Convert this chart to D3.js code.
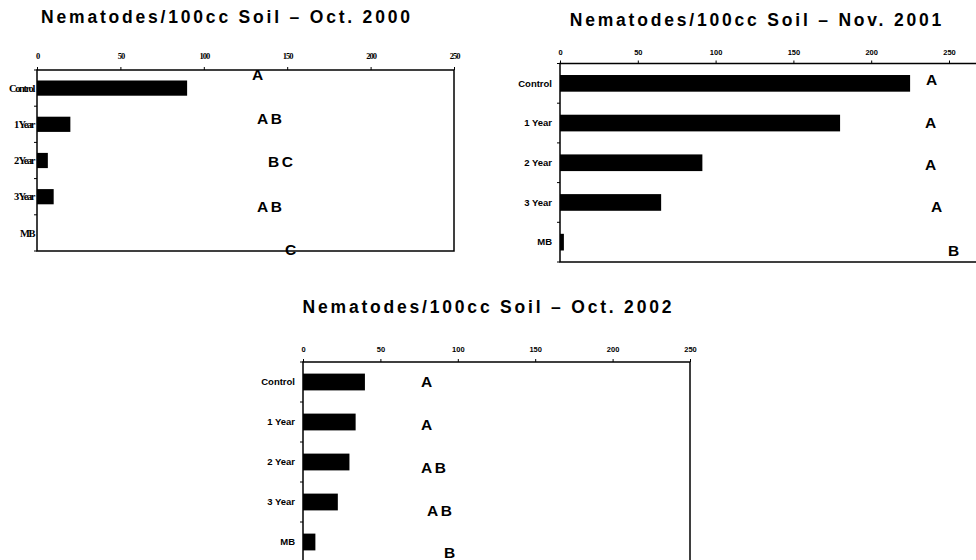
<!DOCTYPE html>
<html>
<head>
<meta charset="utf-8">
<script src="https://cdn.jsdelivr.net/npm/d3@7"></script>
<style>
  body { margin: 0; background: #fff; }
  svg { display: block; }
</style>
</head>
<body>
<script>
// categories shared by all three plots
var categories = ["Control", "1 Year", "2 Year", "3 Year", "MB"];
var xTicks = [0, 50, 100, 150, 200, 250];

// nematodes per 100cc soil
var oct2000 = [90, 20, 6.5, 10, 0];
var nov2001 = [225, 180, 91.5, 65, 2.5];
var oct2002 = [40, 34, 30, 22.5, 8];

// significance letters
var letters2000 = ["A", "AB", "BC", "AB", "C"];
var letters2001 = ["A", "A", "A", "A", "B"];
var letters2002 = ["A", "A", "AB", "AB", "B"];

var titles = ["Nematodes/100cc Soil \u2013 Oct. 2000",
              "Nematodes/100cc Soil \u2013 Nov. 2001",
              "Nematodes/100cc Soil \u2013 Oct. 2002"];

var W = 976, H = 560;
var svg = d3.select("body").append("svg").attr("width", W).attr("height", H);

var sans = "'Liberation Sans', Arial, sans-serif";
var serif = "'Liberation Serif', 'Times New Roman', serif";

// layout of each panel (positions only)
var panels = [
  { title: titles[0], values: oct2000, letters: letters2000,
    titleX: 225.5, titleY: 23,
    left: 37, right: 454, top: 70, band: 36.2, boxRight: 454, boxBottom: 251,
    tickY: 59, labelX: 34, font: serif, tickSize: 8.5, tickLs: -1, catSize: 10.5, catLs: -1.4,
    // letter placement: offset from plot left, baseline offset from band centre
    lx: [215, 220, 231, 220, 248], ly: [-8, 0, 6, 15, 22] },
  { title: titles[1], values: nov2001, letters: letters2001,
    titleX: 755.5, titleY: 26,
    left: 560, right: 949, top: 63.5, band: 39.7, boxRight: 990, boxBottom: 262,
    tickY: 55, labelX: 552, font: sans, tickSize: 7.5, tickLs: 0, catSize: 9.5, catLs: 0,
    lx: [366, 365, 365, 371, 388], ly: [2, 5, 7, 10, 14] },
  { title: titles[2], values: oct2002, letters: letters2002,
    titleX: 487, titleY: 313.3,
    left: 303, right: 690, top: 362, band: 40, boxRight: 690, boxBottom: 600,
    tickY: 352, labelX: 295, font: sans, tickSize: 7.5, tickLs: 0, catSize: 9.5, catLs: 0,
    lx: [118, 118, 118, 124, 141], ly: [5, 8, 11, 14, 15.5] }
];

panels.forEach(function(p) {
  var g = svg.append("g");

  var x = d3.scaleLinear().domain([0, 250]).range([p.left, p.right]);
  var y = d3.scaleBand()
            .domain(categories)
            .range([p.top, p.top + p.band * categories.length])
            .paddingInner(0.58)
            .paddingOuter(0.29);

  // title
  var ls = 2.8;
  g.append("text")
    .attr("x", p.titleX + ls / 2)
    .attr("y", p.titleY)
    .attr("text-anchor", "middle")
    .style("font-family", sans)
    .style("font-weight", "bold")
    .style("font-size", "17.5px")
    .style("letter-spacing", ls + "px")
    .text(p.title);

  // bars
  g.selectAll("rect.bar")
    .data(p.values)
    .enter().append("rect")
    .attr("class", "bar")
    .attr("x", x(0))
    .attr("y", function(d, i) { return y(categories[i]); })
    .attr("width", function(d) { return x(d) - x(0); })
    .attr("height", y.bandwidth())
    .attr("fill", "#000");

  // frame
  g.append("rect")
    .attr("x", p.left)
    .attr("y", p.top)
    .attr("width", p.boxRight - p.left)
    .attr("height", p.boxBottom - p.top)
    .attr("fill", "none")
    .attr("stroke", "#000")
    .attr("stroke-width", 1.5);

  // top axis
  var axisTop = d3.axisTop(x).tickValues(xTicks).tickSize(3).tickPadding(2);
  var ax = g.append("g").attr("transform", "translate(0," + p.top + ")").call(axisTop);
  ax.select(".domain").remove();
  ax.selectAll("line").attr("stroke", "#000");
  ax.selectAll("text")
    .attr("y", p.tickY - p.top)
    .attr("dy", null)
    .style("font-family", p.font)
    .style("font-weight", "bold")
    .style("font-size", p.tickSize + "px")
    .style("letter-spacing", p.tickLs + "px")
    .attr("fill", "#000");

  // left ticks on band boundaries
  var bounds = d3.range(categories.length + 1).map(function(i) { return p.top + i * y.step(); })
                 .filter(function(v) { return v <= p.boxBottom; });
  g.selectAll("line.ytick")
    .data(bounds)
    .enter().append("line")
    .attr("class", "ytick")
    .attr("x1", p.left - 3).attr("x2", p.left)
    .attr("y1", function(d) { return d; }).attr("y2", function(d) { return d; })
    .attr("stroke", "#000");

  // category labels
  g.selectAll("text.cat")
    .data(categories)
    .enter().append("text")
    .attr("class", "cat")
    .attr("x", p.labelX)
    .attr("y", function(d) { return y(d) + y.bandwidth() / 2 + p.catSize * 0.35; })
    .attr("text-anchor", "end")
    .style("font-family", p.font)
    .style("font-weight", "bold")
    .style("font-size", p.catSize + "px")
    .style("letter-spacing", p.catLs + "px")
    .text(function(d) { return d; });

  // significance letters
  g.selectAll("text.sig")
    .data(p.letters)
    .enter().append("text")
    .attr("class", "sig")
    .attr("x", function(d, i) { return p.left + p.lx[i]; })
    .attr("y", function(d, i) { return y(categories[i]) + y.bandwidth() / 2 + p.ly[i]; })
    .style("font-family", sans)
    .style("font-weight", "bold")
    .style("font-size", "15.5px")
    .style("letter-spacing", "2.5px")
    .text(function(d) { return d; });
});
</script>
</body>
</html>
